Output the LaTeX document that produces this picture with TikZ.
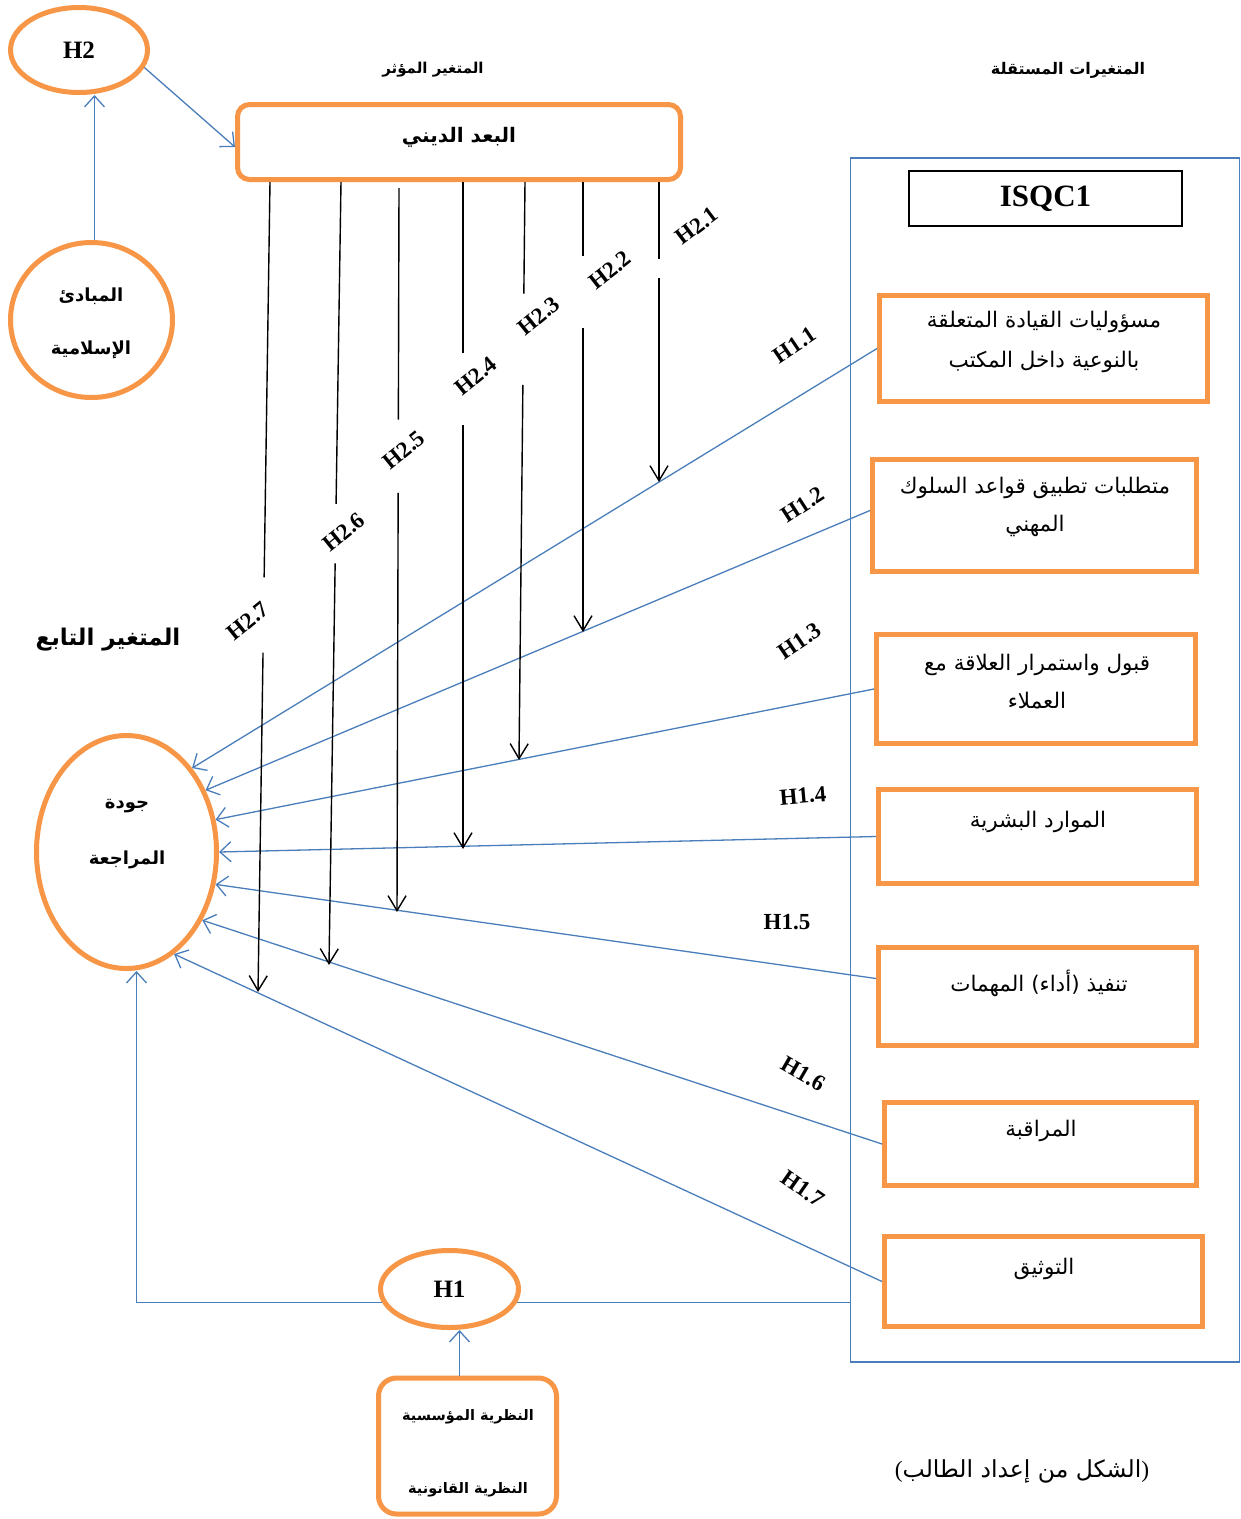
\documentclass[tikz,border=0pt]{standalone}
\usepackage{fontspec}
\setmainfont{Liberation Serif}
\newfontfamily\arf[Script=Arabic]{DejaVu Sans}
\newfontfamily\dvs{DejaVu Sans}
\TeXXeTstate=1
\usetikzlibrary{arrows.meta,calc,shapes.geometric}
\definecolor{orng}{HTML}{F79646}
\definecolor{blu}{HTML}{4A7EBB}
\newcommand{\AR}[1]{\beginR #1\endR}
\newcommand{\fsz}[2]{\fontsize{#1}{#2}\selectfont}
\begin{document}
\begin{tikzpicture}[x=1pt,y=-1pt,
  obox/.style={draw=orng, line width=5pt, inner sep=0pt, rectangle},
  oell/.style={draw=orng, line width=5pt, ellipse, inner sep=0pt},
  bline/.style={draw=blu, line width=1.3pt},
  barr/.style={bline, -{Straight Barb[length=11pt,width=20pt]}},
  kline/.style={draw=black, line width=1.4pt},
  karr/.style={kline, -{Straight Barb[length=15pt,width=18pt]}},
  hlab/.style={font=\fsz{23}{26}\bfseries, inner sep=1pt},
  artx/.style={font=\arf\fsz{21.5}{40}, align=center, inner sep=0pt},
  arbd/.style={font=\arf\bfseries\fsz{16}{20}, align=center, inner sep=0pt},
]
\useasboundingbox[fill=white] (0,0) rectangle (1241,1519);

% ---- left top
\node[oell, minimum width=137pt, minimum height=85pt] (h2) at (79,50) {\fsz{25}{28}\bfseries H2};
\node[oell, minimum width=162pt, minimum height=155pt] (mab) at (91.5,320) {};
\node[arbd, font=\arf\bfseries\fsz{18}{53}] (mabt) at (91,323) {\AR{المبادئ}\\\AR{الإسلامية}};

% ---- titles
\node[arbd, font=\arf\bfseries\fsz{15}{18}] (tmu) at (433,70) {\AR{المتغير المؤثر}};
\node[arbd, font=\arf\bfseries\fsz{16}{18}] (tms) at (1068,70) {\AR{المتغيرات المستقلة}};
\node[arbd, font=\arf\bfseries\fsz{23}{26}] (tta) at (108,640) {\AR{المتغير التابع}};

% ---- religion box
\node[obox, rounded corners=12pt, minimum width=443pt, minimum height=75pt] (bud) at (459,142) {};
\node[arbd, font=\arf\bfseries\fsz{20}{22}] (budt) at (459,137) {\AR{البعد الديني}};

% ---- ISQC frame
\node[draw=blu, line width=1.4pt, rectangle, minimum width=389pt, minimum height=1204pt, inner sep=0pt] (frame) at (1045,760) {};
\node[draw=black, line width=1.2pt, rectangle, minimum width=273pt, minimum height=55pt, inner sep=0pt] (isqc) at (1045.5,198.5) {\fsz{31}{34}\bfseries ISQC1};

\node[obox, minimum width=328pt, minimum height=106pt] (b1) at (1043.5,348.5) {};
\node[obox, minimum width=324pt, minimum height=112pt] (b2) at (1034.5,515.5) {};
\node[obox, minimum width=319pt, minimum height=109pt] (b3) at (1036,689) {};
\node[obox, minimum width=318pt, minimum height=94pt] (b4) at (1037.5,836.5) {};
\node[obox, minimum width=318pt, minimum height=98pt] (b5) at (1037.5,996.5) {};
\node[obox, minimum width=312pt, minimum height=83pt] (b6) at (1040.5,1144) {};
\node[obox, minimum width=318pt, minimum height=90pt] (b7) at (1043.5,1281.5) {};

\node[artx] (b1t) at (1044,342) {\AR{مسؤوليات القيادة المتعلقة}\\\AR{بالنوعية داخل المكتب}};
\node[artx, font=\arf\fsz{21.5}{38}] (b2t) at (1035,507) {\AR{متطلبات تطبيق قواعد السلوك}\\\AR{المهني}};
\node[artx, font=\arf\fsz{21.5}{38}] (b3t) at (1037,682) {\AR{قبول واستمرار العلاقة مع}\\\AR{العملاء}};
\node[artx] (b4t) at (1038,822) {\AR{الموارد البشرية}};
\node[artx] (b5t) at (1039,983) {\AR{المهمات} {\dvs(}\AR{أداء}{\dvs)} \AR{تنفيذ}};
\node[artx] (b6t) at (1041,1131) {\AR{المراقبة}};
\node[artx] (b7t) at (1044,1269) {\AR{التوثيق}};

% ---- dependent variable
\node[oell, minimum width=180pt, minimum height=233pt] (jq) at (126.5,852) {};
\node[arbd, font=\arf\bfseries\fsz{18}{56}] (jqt) at (127,834) {\AR{جودة}\\\AR{المراجعة}};

% ---- H1 and theories
\node[oell, minimum width=138pt, minimum height=77pt] (h1) at (449.5,1289) {\fsz{25}{28}\bfseries H1};
\node[obox, rounded corners=18pt, minimum width=178pt, minimum height=136pt] (nz) at (467.5,1446) {};
\node[arbd, font=\arf\bfseries\fsz{14.5}{73}] (nzt) at (468,1453) {\AR{النظرية المؤسسية}\\\AR{النظرية القانونية}};

\node[font=\fsz{23.5}{26}, inner sep=0pt] (src) at (1022,1471) {(\arf\AR{الشكل من إعداد الطالب}\rmfamily)};

% ---- blue connectors
\draw[barr] ([xshift=3pt]mab.north) -- ([xshift=3pt]mab.north |- h2.south);
\draw[barr] (h2.-15) -- ([yshift=-5pt]bud.west);

\draw[barr] (b1.west) -- (jq.52);
\draw[barr] ([yshift=5pt]b2.west) -- (jq.38);
\draw[barr] (b3.west) -- (jq.20);
\draw[barr] (b4.west) -- (jq.0);
\draw[barr] ([yshift=18pt]b5.west) -- (jq.-20);
\draw[barr] (b6.west) -- (jq.-42);
\draw[barr] (b7.west) -- (jq.-65);

\draw[bline] (h1.-11) -- (h1.-11 -| frame.west);
\draw[barr] (h1.191) -| ([xshift=10pt]jq.south);
\draw[barr] ([xshift=-8pt]nz.north) -- ([xshift=-8pt]nz.north |- h1.south);

% ---- black connectors H2.x
\coordinate (t1) at ([xshift=200pt]bud.south);
\coordinate (t2) at ([xshift=124pt]bud.south);
\coordinate (t3) at ([xshift=66pt]bud.south);
\coordinate (t4) at ([xshift=4pt]bud.south);
\coordinate (t5) at ([xshift=-60pt,yshift=-6pt]bud.south);
\coordinate (t6) at ([xshift=-118pt]bud.south);
\coordinate (t7) at ([xshift=-189pt]bud.south);
\coordinate (e1) at (659,482);
\coordinate (e2) at (583,632);
\coordinate (e3) at (519,760);
\coordinate (e4) at (463,849);
\coordinate (e5) at (397,912);
\coordinate (e6) at (329,965);
\coordinate (e7) at (258,992);

\draw[kline] (t1) -- ($(t1)!0.255!(e1)$);  \draw[karr] ($(t1)!0.321!(e1)$) -- (e1);
\draw[kline] (t2) -- ($(t2)!0.164!(e2)$);  \draw[karr] ($(t2)!0.325!(e2)$) -- (e2);
\draw[kline] (t3) -- ($(t3)!0.193!(e3)$);  \draw[karr] ($(t3)!0.351!(e3)$) -- (e3);
\draw[kline] (t4) -- ($(t4)!0.256!(e4)$);  \draw[karr] ($(t4)!0.364!(e4)$) -- (e4);
\draw[kline] (t5) -- ($(t5)!0.320!(e5)$);  \draw[karr] ($(t5)!0.421!(e5)$) -- (e5);
\draw[kline] (t6) -- ($(t6)!0.411!(e6)$);  \draw[karr] ($(t6)!0.487!(e6)$) -- (e6);
\draw[kline] (t7) -- ($(t7)!0.488!(e7)$);  \draw[karr] ($(t7)!0.581!(e7)$) -- (e7);

% ---- labels
\node[hlab, rotate=37] (l21) at (697,226) {H2.1};
\node[hlab, rotate=38] (l22) at (610,270) {H2.2};
\node[hlab, rotate=39] (l23) at (539,316) {H2.3};
\node[hlab, rotate=39] (l24) at (476,376) {H2.4};
\node[hlab, rotate=39] (l25) at (404,450) {H2.5};
\node[hlab, rotate=39] (l26) at (344,532) {H2.6};
\node[hlab, rotate=39] (l27) at (248,621) {H2.7};

\node[hlab, rotate=34] (l11) at (795,345) {H1.1};
\node[hlab, rotate=33] (l12) at (803,505) {H1.2};
\node[hlab, rotate=34] (l13) at (800,641) {H1.3};
\node[hlab, rotate=5] (l14) at (803,796) {H1.4};
\node[hlab] (l15) at (787,922) {H1.5};
\node[hlab, rotate=-30] (l16) at (803,1074) {H1.6};
\node[hlab, rotate=-35] (l17) at (803,1189) {H1.7};
\end{tikzpicture}
\end{document}
